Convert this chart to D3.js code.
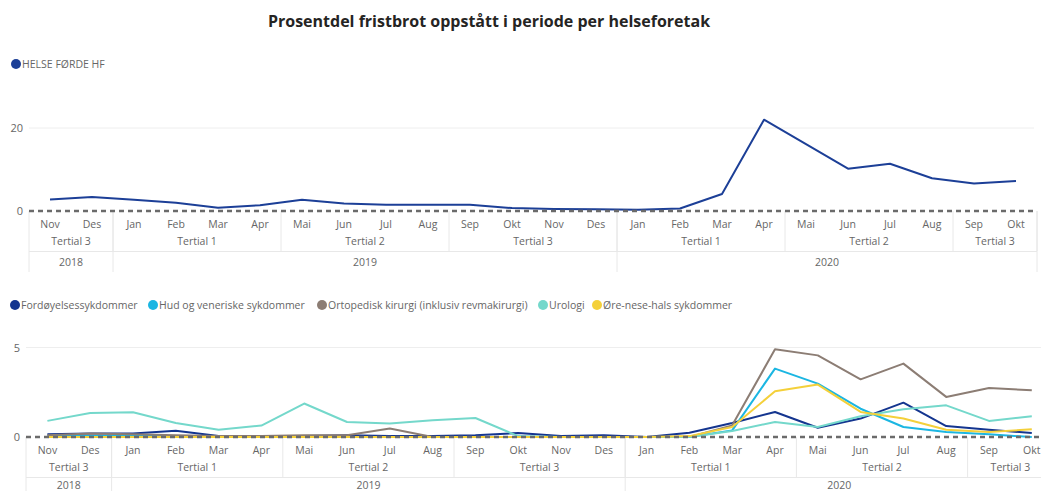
<!DOCTYPE html>
<html>
<head>
<meta charset="utf-8">
<script src="https://cdn.jsdelivr.net/npm/d3@7"></script>
<style>
  body { margin: 0; background: #fff; }
  text { font-family: "Open Sans", "Noto Sans", sans-serif; }
</style>
</head>
<body>
<svg id="chart" width="1041" height="491"></svg>
<script>
var width = 1041
var height = 491

// x categories (Nov 2018 - Okt 2020)
var months = ["Nov","Des","Jan","Feb","Mar","Apr","Mai","Jun","Jul","Aug","Sep","Okt",
              "Nov","Des","Jan","Feb","Mar","Apr","Mai","Jun","Jul","Aug","Sep","Okt"];
var tertials = [["Tertial 3", 0, 1], ["Tertial 1", 2, 5], ["Tertial 2", 6, 9], ["Tertial 3", 10, 13],
                ["Tertial 1", 14, 17], ["Tertial 2", 18, 21], ["Tertial 3", 22, 23]];
var years = [["2018", 0, 1], ["2019", 2, 13], ["2020", 14, 23]];

// top chart
var helseForde = [2.8, 3.4, 2.7, 2.0, 0.8, 1.4, 2.7, 1.8, 1.5, 1.5, 1.5, 0.7,
                  0.5, 0.4, 0.3, 0.6, 4.1, 22.0, 16.1, 10.2, 11.4, 7.9, 6.6, 7.2];

// bottom chart
var seriesNames = ["Fordøyelsessykdommer", "Hud og veneriske sykdommer",
                   "Ortopedisk kirurgi (inklusiv revmakirurgi)", "Urologi", "Øre-nese-hals sykdommer"];
var fordoyelse = [0.15, 0.2, 0.2, 0.35, 0.05, 0.05, 0.05, 0.1, 0.05, 0.05, 0.1, 0.22,
                  0.05, 0.1, 0.0, 0.24, 0.78, 1.4, 0.52, 1.03, 1.92, 0.61, 0.41, 0.22];
var hud = [0.05, 0.05, 0.05, 0.05, 0, 0, 0, 0, 0, 0, 0, 0,
           0, 0, 0, 0, 0.37, 3.82, 2.98, 1.58, 0.56, 0.28, 0.15, 0.0];
var ortopedisk = [0.1, 0.2, 0.15, 0.1, 0.05, 0.05, 0.1, 0.1, 0.47, 0, 0, 0,
                  0, 0, 0, 0, 0.65, 4.9, 4.56, 3.22, 4.1, 2.24, 2.74, 2.61];
var urologi = [0.9, 1.34, 1.38, 0.78, 0.41, 0.64, 1.87, 0.84, 0.75, 0.93, 1.06, 0.05,
               0, 0, 0, 0, 0.33, 0.84, 0.56, 1.16, 1.55, 1.77, 0.9, 1.16];
var oreNeseHals = [0, 0, 0, 0, 0, 0, 0, 0, 0, 0, 0, 0,
                   0, 0, 0, 0.05, 0.56, 2.55, 2.93, 1.4, 1.03, 0.41, 0.28, 0.43];
var seriesValues = [fordoyelse, hud, ortopedisk, urologi, oreNeseHals];
var seriesColors = ["#14358f", "#1bb6e2", "#8c7d74", "#74d8cb", "#f4d03a"];

var textColor = "#666";
var svg = d3.select("#chart");

svg.append("text")
    .attr("x", 489).attr("y", 27)
    .attr("text-anchor", "middle")
    .attr("font-size", 16)
    .attr("font-weight", 700)
    .attr("fill", "#252423")
    .text("Prosentdel fristbrot oppstått i periode per helseforetak");

function legend(items, colors, xs, y) {
  items.forEach(function(name, i) {
    svg.append("circle").attr("cx", xs[i]).attr("cy", y).attr("r", 5).attr("fill", colors[i]);
    svg.append("text").attr("x", xs[i] + 6).attr("y", y + 4)
        .attr("font-size", 10.5).attr("fill", textColor).text(name);
  });
}

function drawChart(opt) {
  var x = d3.scaleBand().domain(d3.range(months.length))
      .range([opt.left, opt.left + opt.step * months.length]);
  var y = d3.scaleLinear().domain([0, opt.tick]).range([opt.zeroY, opt.tickY]);
  var g = svg.append("g");
  var right = opt.left + opt.step * months.length;

  // grid + y labels
  g.append("line").attr("x1", opt.left).attr("x2", opt.gridEnd)
      .attr("y1", y(opt.tick)).attr("y2", y(opt.tick))
      .attr("stroke", "#eee").attr("stroke-width", 1);
  [0, opt.tick].forEach(function(t) {
    g.append("text").attr("x", opt.left - 6).attr("y", y(t) + 4)
        .attr("text-anchor", "end").attr("font-size", 11).attr("fill", textColor).text(t);
  });

  // hierarchical x axis
  var ax = g.append("g").attr("font-size", 10.5).attr("fill", textColor).attr("text-anchor", "middle");
  months.forEach(function(m, i) {
    ax.append("text").attr("x", x(i) + x.bandwidth() / 2).attr("y", opt.zeroY + 17).text(m);
  });
  tertials.forEach(function(t) {
    var x0 = x(t[1]), x1 = x(t[2]) + x.bandwidth();
    ax.append("text").attr("x", (x0 + x1) / 2).attr("y", opt.zeroY + 34).text(t[0]);
    ax.append("line").attr("x1", x1).attr("x2", x1).attr("y1", opt.zeroY).attr("y2", opt.zeroY + 40)
        .attr("stroke", "#e8e8e8");
  });
  years.forEach(function(t) {
    var x0 = x(t[1]), x1 = x(t[2]) + x.bandwidth();
    ax.append("text").attr("x", (x0 + x1) / 2).attr("y", opt.zeroY + opt.yearY).text(t[0]);
    ax.append("line").attr("x1", x1).attr("x2", x1).attr("y1", opt.zeroY).attr("y2", opt.zeroY + 61)
        .attr("stroke", "#e8e8e8");
  });
  ax.append("line").attr("x1", opt.left).attr("x2", opt.left).attr("y1", opt.zeroY).attr("y2", opt.zeroY + 61)
      .attr("stroke", "#e8e8e8");
  ax.append("line").attr("x1", opt.left).attr("x2", right).attr("y1", opt.zeroY + 40.5).attr("y2", opt.zeroY + 40.5)
      .attr("stroke", "#e8e8e8");

  // lines
  var line = d3.line()
      .x(function(d, i) { return x(i) + x.bandwidth() / 2; })
      .y(function(d) { return y(d); });
  opt.series.forEach(function(vals, k) {
    g.append("path").datum(vals).attr("d", line)
        .attr("fill", "none").attr("stroke", opt.colors[k])
        .attr("stroke-width", 2).attr("stroke-linejoin", "round");
  });

  // zero line
  g.append("line").attr("x1", opt.left).attr("x2", opt.gridEnd)
      .attr("y1", opt.zeroY).attr("y2", opt.zeroY)
      .attr("stroke", "#6b6b6b").attr("stroke-width", 2.5).attr("stroke-dasharray", "5,4");
}

legend(["HELSE FØRDE HF"], ["#1c3f97"], [16], 64);
drawChart({ left: 29, step: 42, zeroY: 211, tickY: 128, tick: 20, gridEnd: 1034, yearY: 55,
            series: [helseForde], colors: ["#1c3f97"] });

legend(seriesNames, seriesColors, [15, 153, 322, 543, 597], 305);
drawChart({ left: 26, step: 42.8, zeroY: 437, tickY: 347.5, tick: 5, gridEnd: 1041, yearY: 51.5,
            series: seriesValues, colors: seriesColors });
</script>
</body>
</html>
